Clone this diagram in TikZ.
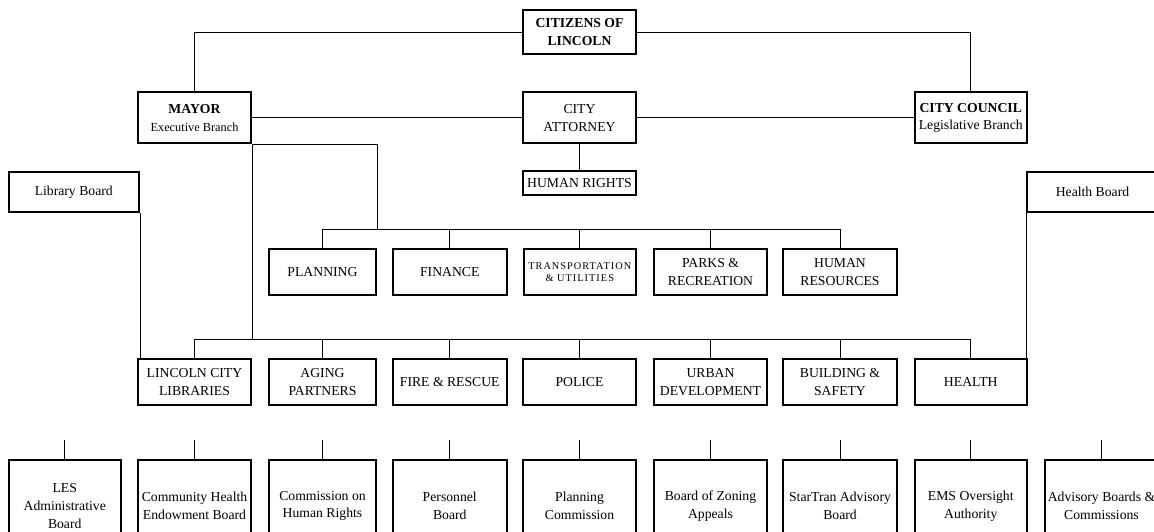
\documentclass[tikz,border=0pt]{standalone}
\usepackage{fontspec}
\setmainfont{Liberation Serif}
\usetikzlibrary{calc}
\begin{document}
\begin{tikzpicture}[x=1pt,y=-1pt,
  box/.style={draw, line width=2pt, inner sep=0pt, align=center,
    font=\fontsize{13.7}{17.6}\selectfont},
  conn/.style={line width=0.9pt},
  toprow/.style={box, minimum height=51.5pt},
  deptrow/.style={box, minimum height=46pt},
  boardrow/.style={box, minimum height=92pt}]
\useasboundingbox (0,0) rectangle (1154,532);
\fill[white] (0,0) rectangle (1154,532);
\clip (0,0) rectangle (1154,532);

% top level
\node[box, minimum width=113pt, minimum height=44pt] (citizens) at (579.5,32) {\textbf{CITIZENS OF}\\\textbf{LINCOLN}};
\node[toprow, minimum width=113pt] (mayor) at (194.5,117.75) {\textbf{MAYOR}\\{\fontsize{12.3}{17.6}\selectfont Executive Branch}};
\node[toprow, minimum width=113pt] (attorney) at (579.5,117.75) {CITY\\ATTORNEY};
\node[toprow, minimum width=112.5pt] (council) at (970.75,117.75) {\textbf{CITY COUNCIL}\\Legislative Branch};
\node[box, minimum width=113pt, minimum height=24pt] (hr) at (579.5,183) {HUMAN RIGHTS};
\node[box, minimum width=130.5pt, minimum height=39.7pt] (libboard) at (73.75,191.85) {Library Board};
\node[box, minimum width=131pt, minimum height=39.7pt] (hboard) at (1092.5,191.85) {Health Board};

% upper department row
\node[deptrow, minimum width=107pt] (planning) at (322.5,272) {PLANNING};
\node[deptrow, minimum width=113.5pt] (finance) at (449.75,272) {FINANCE};
\node[deptrow, minimum width=112.5pt, font=\fontsize{10.3}{12.4}\selectfont\addfontfeature{LetterSpace=10}] (transp) at (579.75,272) {TRANSPORTATION\\\& UTILITIES};
\node[deptrow, minimum width=113pt] (parks) at (710.5,272) {PARKS \&\\RECREATION};
\node[deptrow, minimum width=114pt] (hres) at (840,272) {HUMAN\\RESOURCES};

% lower department row
\node[deptrow, minimum width=113pt] (lcl) at (194.5,382) {LINCOLN CITY\\LIBRARIES};
\node[deptrow, minimum width=107pt] (aging) at (322.5,382) {AGING\\PARTNERS};
\node[deptrow, minimum width=113.5pt] (fire) at (449.75,382) {FIRE \& RESCUE};
\node[deptrow, minimum width=113pt] (police) at (579.5,382) {POLICE};
\node[deptrow, minimum width=113pt] (urban) at (710.5,382) {URBAN\\DEVELOPMENT};
\node[deptrow, minimum width=114pt] (building) at (840,382) {BUILDING \&\\SAFETY};
\node[deptrow, minimum width=112.5pt] (health) at (970.75,382) {HEALTH};

% boards row
\node[boardrow, minimum width=112.5pt] (les) at (64.75,506) {LES\\Administrative\\Board};
\node[boardrow, minimum width=113pt] (chealth) at (194.5,506) {Community Health\\Endowment Board};
\node[boardrow, minimum width=107pt] (chr) at (322.5,506) {Commission on\\Human Rights};
\node[boardrow, minimum width=113.5pt] (personnel) at (449.75,506) {Personnel\\Board};
\node[boardrow, minimum width=113pt] (plancomm) at (579.5,506) {Planning\\Commission};
\node[boardrow, minimum width=113pt] (zoning) at (710.5,506) {Board of Zoning\\Appeals};
\node[boardrow, minimum width=114pt] (startran) at (840,506) {StarTran Advisory\\Board};
\node[boardrow, minimum width=112.5pt] (ems) at (970.75,506) {EMS Oversight\\Authority};
\node[boardrow, minimum width=113pt] (advisory) at (1101.5,506) {Advisory Boards \&\\Commissions};

% connectors
\draw[conn] (citizens.west) -| (mayor.north);
\draw[conn] (citizens.east) -| (council.north);
\draw[conn] (mayor.east) -- (attorney.west);
\draw[conn] (attorney.east) -- (council.west);
\draw[conn] (attorney.south) -- (hr.north);

% upper bus
\coordinate (ubus) at ($(planning.north east)+(0,-19)$);
\draw[conn] (mayor.south east) -| (ubus);
\draw[conn] (planning.north) -- ++(0,-19) -| (hres.north);
\foreach \n in {finance,transp,parks}
  \draw[conn] (\n.north) -- ++(0,-19);

% lower bus
\coordinate (lbus) at ($(lcl.north east)+(0,-18.3)$);
\draw[conn] (mayor.south east) -- (lbus);
\draw[conn] (lcl.north) -- ++(0,-18.3) -| (health.north);
\foreach \n in {aging,fire,police,urban,building}
  \draw[conn] (\n.north) -- ++(0,-18.3);

% boards
\draw[conn] (libboard.south east) -- (libboard.south east |- lcl.north);
\draw[conn] (hboard.south west) -- (hboard.south west |- health.north);

% stubs above board row
\foreach \n in {les,chealth,chr,personnel,plancomm,zoning,startran,ems,advisory}
  \draw[conn] (\n.north) -- ++(0,-19);
\end{tikzpicture}
\end{document}
